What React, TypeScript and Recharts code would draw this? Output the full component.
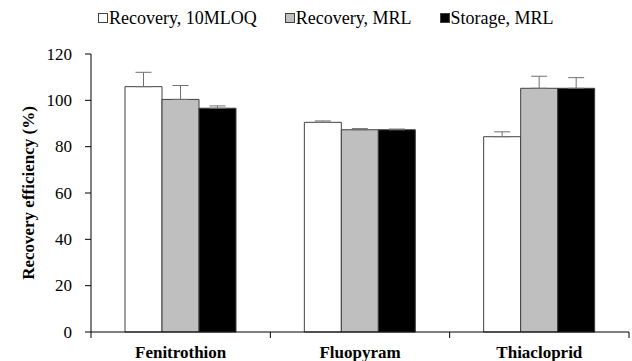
import React from 'react';
import { BarChart, Bar, XAxis, YAxis, Legend, ErrorBar } from 'recharts';

const categories = ['Fenitrothion', 'Fluopyram', 'Thiacloprid'];
const recovery10Mloq = [105.9, 90.5, 84.3];
const recovery10MloqErr = [6.2, 0.6, 2.1];
const recoveryMrl = [100.4, 87.3, 105.2];
const recoveryMrlErr = [6.0, 0.5, 5.2];
const storageMrl = [96.6, 87.3, 105.2];
const storageMrlErr = [1.0, 0.3, 4.6];
const yTicks = [0, 20, 40, 60, 80, 100, 120];

const seriesInfo = [
  { key: 'rec10', name: 'Recovery, 10MLOQ', fill: '#ffffff' },
  { key: 'recMrl', name: 'Recovery, MRL', fill: '#bfbfbf' },
  { key: 'stor', name: 'Storage, MRL', fill: '#000000' },
];

const data = categories.map((name, i) => ({
  name,
  rec10: recovery10Mloq[i],
  rec10Err: [0, recovery10MloqErr[i]],
  recMrl: recoveryMrl[i],
  recMrlErr: [0, recoveryMrlErr[i]],
  stor: storageMrl[i],
  storErr: [0, storageMrlErr[i]],
}));

const W = 632;
const H = 361;
const LEFT = 91;
const RIGHT = 3;
const FONT = 'Liberation Serif, Times New Roman, serif';
const band = (W - LEFT - RIGHT) / categories.length;

const XTick = ({ x, y, payload, index }: any) => {
  const half = band / 2;
  return (
    <g>
      <line x1={x - half} y1={y} x2={x - half} y2={y + 6} stroke="#000" />
      {index === categories.length - 1 && (
        <line x1={x + half} y1={y} x2={x + half} y2={y + 6} stroke="#000" />
      )}
      <text x={x} y={y + 26} textAnchor="middle" style={{ fontFamily: FONT }} fontSize={17} fontWeight="bold" fill="#000">
        {payload.value}
      </text>
    </g>
  );
};

const YTick = ({ x, y, payload }: any) => (
  <text x={x} y={y} textAnchor="end" dominantBaseline="central" style={{ fontFamily: FONT }} fontSize={17} fill="#000">
    {payload.value}
  </text>
);

const YLabel = ({ viewBox }: any) => {
  const cy = viewBox.y + viewBox.height / 2;
  return (
    <text
      x={28}
      y={cy}
      transform={`rotate(-90, 28, ${cy})`}
      textAnchor="middle"
      dominantBaseline="central"
      style={{ fontFamily: FONT }}
      fontSize={17}
      fontWeight="bold"
      fill="#000"
    >
      Recovery efficiency (%)
    </text>
  );
};

const LegendContent = () => (
  <div
    style={{
      display: 'flex',
      alignItems: 'center',
      height: 24,
      paddingLeft: 98,
      fontFamily: FONT,
      fontSize: 18,
      color: '#000',
    }}
  >
    {seriesInfo.map((s) => (
      <div key={s.key} style={{ display: 'flex', alignItems: 'center', marginRight: 28 }}>
        <span
          style={{
            display: 'inline-block',
            width: 8,
            height: 8,
            background: s.fill,
            border: '1px solid #404040',
            marginRight: 1,
          }}
        />
        <span>{s.name}</span>
      </div>
    ))}
  </div>
);

export default function App() {
  return (
    <div style={{ position: 'absolute', left: 0, top: 0, background: '#fff' }}>
      <BarChart
        width={W}
        height={H}
        data={data}
        margin={{ top: 30, right: RIGHT, left: 0, bottom: 0 }}
        barGap={0}
        barSize={37}
      >
        <Legend
          verticalAlign="top"
          align="left"
          content={<LegendContent />}
          wrapperStyle={{ left: 0, top: 6, width: W }}
        />
        <XAxis
          dataKey="name"
          height={29}
          tickLine={false}
          tickSize={0}
          tickMargin={0}
          axisLine={{ stroke: '#000' }}
          tick={<XTick />}
          interval={0}
        />
        <YAxis
          width={LEFT}
          domain={[0, 120]}
          ticks={yTicks}
          interval={0}
          tickSize={6}
          tickMargin={13}
          axisLine={{ stroke: '#000' }}
          tickLine={{ stroke: '#000' }}
          tick={<YTick />}
          label={<YLabel />}
        />
        {seriesInfo.map((s) => (
          <Bar
            key={s.key}
            dataKey={s.key}
            name={s.name}
            fill={s.fill}
            stroke="#404040"
            strokeWidth={1}
            isAnimationActive={false}
          >
            <ErrorBar dataKey={`${s.key}Err`} direction="y" width={8} stroke="#707070" strokeWidth={1} />
          </Bar>
        ))}
      </BarChart>
    </div>
  );
}
